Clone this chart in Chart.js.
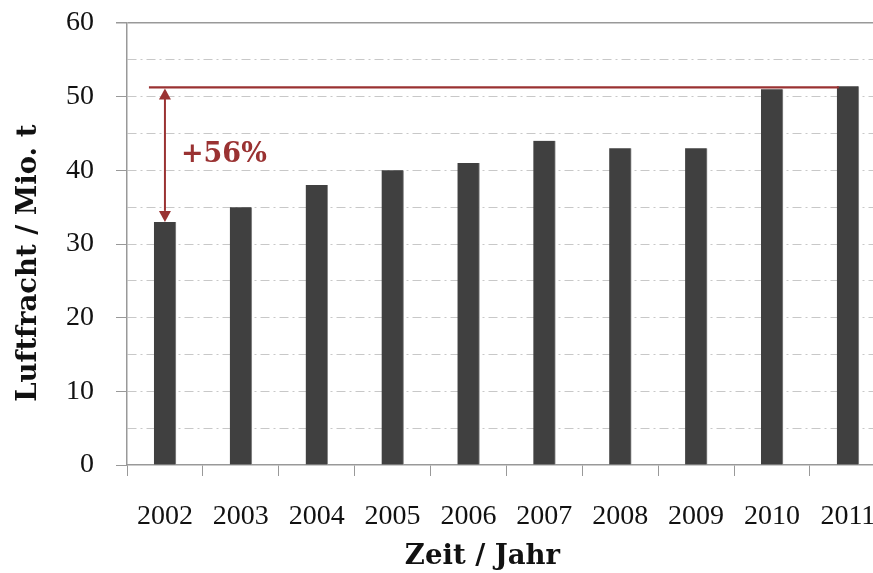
<!DOCTYPE html>
<html>
<head>
<meta charset="utf-8">
<script src="https://cdn.jsdelivr.net/npm/chart.js@4"></script>
<style>
  html, body { margin: 0; padding: 0; overflow: hidden; background: #fff; }
  #wrap { width: 900px; height: 573px; }
</style>
</head>
<body>
<div id="wrap"><canvas id="chart" width="900" height="573"></canvas></div>
<script>
const years = ['2002', '2003', '2004', '2005', '2006', '2007', '2008', '2009', '2010', '2011'];
const freight = [33, 35, 38, 40, 41, 44, 43, 43, 51, 51.4];
const growthFrom = 33;
const growthTo = 51.25;
const growthLabel = '+56%';

const serif = "'Liberation Serif', 'DejaVu Serif', serif";
const boldSerif = "'DejaVu Serif', serif";
const red = '#9a3232';
const nb = n => '\u00a0'.repeat(n); // trailing spaces nudge the centred axis titles

// red reference line + double arrow showing the growth
const growthArrow = {
    id: 'growthArrow',
    afterDatasetsDraw(chart) {
        const { ctx, scales: { y } } = chart;
        const bars = chart.getDatasetMeta(0).data;
        const first = bars[0], last = bars[bars.length - 1];
        const ax = first.x;
        const yTop = y.getPixelForValue(growthTo);
        const yBot = y.getPixelForValue(growthFrom);
        const head = 11;

        ctx.save();
        ctx.strokeStyle = red;
        ctx.fillStyle = red;
        ctx.lineWidth = 2.2;
        ctx.beginPath();
        ctx.moveTo(ax - 16, yTop);
        ctx.lineTo(last.x - last.width / 2 + 2, yTop);
        ctx.stroke();

        ctx.lineWidth = 2;
        ctx.beginPath();
        ctx.moveTo(ax, yTop + head);
        ctx.lineTo(ax, yBot - head);
        ctx.stroke();
        ctx.beginPath();
        ctx.moveTo(ax, yTop + 1);
        ctx.lineTo(ax - 6, yTop + head + 1);
        ctx.lineTo(ax + 6, yTop + head + 1);
        ctx.closePath();
        ctx.fill();
        ctx.beginPath();
        ctx.moveTo(ax, yBot);
        ctx.lineTo(ax - 6, yBot - head);
        ctx.lineTo(ax + 6, yBot - head);
        ctx.closePath();
        ctx.fill();

        ctx.font = `bold 27px ${boldSerif}`;
        ctx.textAlign = 'left';
        ctx.textBaseline = 'middle';
        ctx.fillText(growthLabel, ax + 16, (yTop + yBot) / 2);
        ctx.restore();
    }
};

new Chart(document.getElementById('chart'), {
    type: 'bar',
    data: {
        labels: years,
        datasets: [{
            data: freight,
            backgroundColor: '#404040',
            borderColor: '#8a8a8a',
            borderWidth: { right: 1 },
            barThickness: 22
        }]
    },
    options: {
        responsive: false,
        animation: false,
        layout: { padding: { top: 23, right: 13, left: 0, bottom: 0 } },
        plugins: { legend: { display: false }, tooltip: { enabled: false } },
        scales: {
            x: {
                afterFit: s => { s.height = 108; },
                grid: { offset: true, drawOnChartArea: false, tickLength: 11, color: '#999' },
                border: { color: '#999', width: 1.5 },
                ticks: { color: '#111', padding: 24, font: { family: serif, size: 28 } },
                title: {
                    display: true, text: 'Zeit / Jahr' + nb(5), color: '#111',
                    font: { family: boldSerif, size: 27.5, weight: 'bold' },
                    padding: { top: 0, bottom: 0 }
                }
            },
            y: {
                min: 0, max: 60,
                afterFit: s => { s.width = 127; s.paddingTop = 0; s.paddingBottom = 0; },
                grid: {
                    color: c => c.tick.value === 60 ? '#999' : (c.tick.value === 0 ? 'rgba(0,0,0,0)' : '#c8c8c8'),
                    lineWidth: c => c.tick.value === 60 ? 1.5 : 1,
                    tickColor: c => c.tick.value % 10 === 0 ? '#999' : 'rgba(0,0,0,0)',
                    tickLength: 11
                },
                border: {
                    color: '#999', width: 1.5,
                    dash: c => (c.tick && c.tick.value !== 60) ? [9, 4, 2, 4] : []
                },
                ticks: {
                    stepSize: 5, color: '#111', padding: 22,
                    font: { family: serif, size: 28 },
                    callback: v => v % 10 === 0 ? v : ''
                },
                title: {
                    display: true, text: 'Luftfracht / Mio. t' + nb(4), color: '#111',
                    font: { family: boldSerif, size: 27.5, weight: 'bold' },
                    padding: { top: 12, bottom: 0 }
                }
            }
        }
    },
    plugins: [growthArrow]
});
</script>
</body>
</html>
